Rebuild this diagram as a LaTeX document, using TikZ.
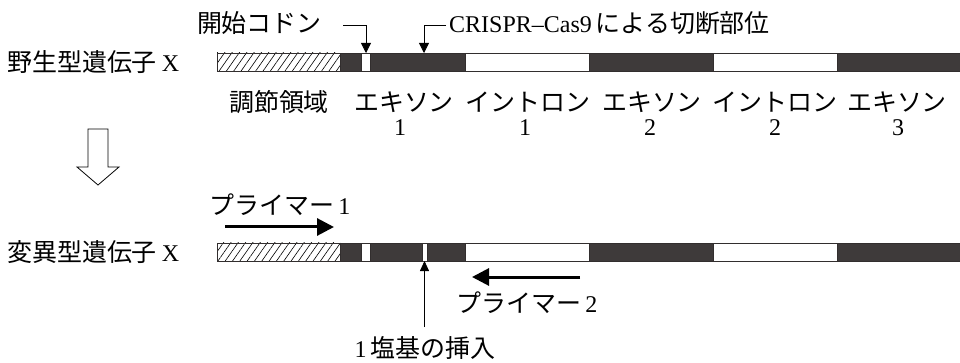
\documentclass[tikz,border=0pt]{standalone}
\usepackage{fontspec}
\setmainfont{Liberation Serif}
\newfontfamily\cjk[Scale=1.04]{Noto Sans CJK JP}
\usetikzlibrary{arrows.meta,patterns.meta}
\definecolor{exon}{RGB}{62,58,58}
\definecolor{edge}{RGB}{50,46,46}
\begin{document}
\begin{tikzpicture}[x=1pt,y=-1pt,
  lbl/.style={inner sep=0pt,font=\fontsize{24}{28}\selectfont},
  ex/.style={fill=exon,draw=edge,line width=0.8pt},
  intr/.style={fill=white,draw=edge,line width=0.8pt},
  reg/.style={draw=edge,line width=0.8pt,pattern={Lines[angle=55,distance=6pt,line width=0.6pt]}},
  lead/.style={line width=0.8pt,-{Triangle[length=10pt,width=10pt]}},
  thin/.style={line width=0.8pt,-{Triangle[length=10pt,width=9pt]}},
  primer/.style={line width=3pt,-{Triangle[length=17pt,width=17pt]}}]
\useasboundingbox (0,0) rectangle (960,363);
% wild-type bar
\path[reg] (217,53) rectangle (340,71);
\path[ex] (340,53) rectangle (361,71);
\path[intr] (361,53) rectangle (370,71);
\path[ex] (370,53) rectangle (465,71);
\path[intr] (465,53) rectangle (589,71);
\path[ex] (589,53) rectangle (713,71);
\path[intr] (713,53) rectangle (837,71);
\path[ex] (837,53) rectangle (962,71);
% mutant bar
\path[reg] (217,243) rectangle (340,261);
\path[ex] (340,243) rectangle (361,261);
\path[intr] (361,243) rectangle (370,261);
\path[ex] (370,243) rectangle (422,261);
\path[intr] (422,243) rectangle (427,261);
\path[ex] (427,243) rectangle (465,261);
\path[intr] (465,243) rectangle (589,261);
\path[ex] (589,243) rectangle (713,261);
\path[intr] (713,243) rectangle (837,261);
\path[ex] (837,243) rectangle (962,261);
% coordinates
\coordinate (startcodon) at (366,53);
\coordinate (cut) at (424,53);
\coordinate (ins) at (424.5,261);
\coordinate (sc1) at (343,25);
\coordinate (sc2) at (366,25);
\coordinate (cc1) at (446,25);
\coordinate (cc2) at (424,25);
\coordinate (insfoot) at (424.5,327);
\coordinate (p1a) at (225,227);
\coordinate (p1b) at (334,227);
\coordinate (p2a) at (580,277);
\coordinate (p2b) at (472,277);
% labels
\node[lbl,anchor=west] (wt) at (7,62) {{\cjk 野生型遺伝子}\hspace{5pt}X};
\node[lbl,anchor=west] (mt) at (7,252) {{\cjk 変異型遺伝子}\hspace{5pt}X};
\node[lbl,anchor=east] (start) at (322,23) {\cjk 開始コドン};
\node[lbl,anchor=west] (crispr) at (449,23) {CRISPR–Cas9\,{\cjk による切断部位}};
\node[lbl] (regl) at (279,102) {\cjk 調節領域};
\node[lbl] (e1) at (404,102) {\cjk エキソン};
\node[lbl] (i1) at (528,102) {\cjk イントロン};
\node[lbl] (e2) at (652,102) {\cjk エキソン};
\node[lbl] (i2) at (775,102) {\cjk イントロン};
\node[lbl] (e3) at (897,102) {\cjk エキソン};
\node[lbl] (n1) at (400,128) {1};
\node[lbl] (n2) at (525,128) {1};
\node[lbl] (n3) at (650,128) {2};
\node[lbl] (n4) at (775,128) {2};
\node[lbl] (n5) at (898,128) {3};
\node[lbl] (pr1) at (280,205) {{\cjk プライマー}\,1};
\node[lbl] (pr2) at (527,303) {{\cjk プライマー}\,2};
\node[lbl] (insl) at (425,348) {1\,{\cjk 塩基の挿入}};
% leaders
\draw[lead] (sc1) -- (sc2) -- (startcodon);
\draw[lead] (cc1) -- (cc2) -- (cut);
\draw[thin] (insfoot) -- (ins);
\draw[primer] (p1a) -- (p1b);
\draw[primer] (p2a) -- (p2b);
% hollow arrow
\draw[line width=0.8pt,fill=white] (88,129) -- (108,129) -- (108,167) -- (119,167) -- (98,185) -- (77,167) -- (88,167) -- cycle;
\end{tikzpicture}
\end{document}
